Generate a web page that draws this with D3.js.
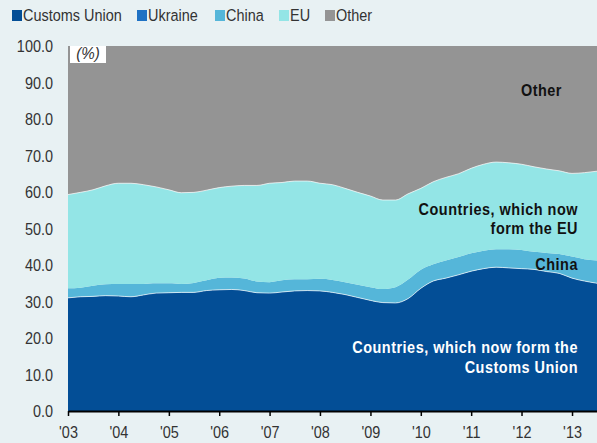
<!DOCTYPE html>
<html><head><meta charset="utf-8">
<script src="https://cdn.jsdelivr.net/npm/d3@7"></script>
<style>
html,body{margin:0;padding:0;background:#e8f1f3;}
svg{display:block;}
text{font-family:'Liberation Sans','Arial',sans-serif;}
</style></head>
<body>
<svg id="chart" width="597" height="443"></svg>
<script>
// Quarterly observations, Jan 2003 .. Jul 2013 (share of total, %)
const periods = d3.range(43).map(i => new Date(2003 + Math.floor(i / 4), (i % 4) * 3, 1));
const seriesNames = ["Customs Union", "Ukraine", "China", "EU", "Other"];
const customsUnion = [31.0,31.3,31.4,31.6,31.5,31.3,31.8,32.3,32.4,32.5,32.5,33.0,33.2,33.3,33.0,32.4,32.3,32.6,32.9,33.0,32.9,32.5,31.9,31.1,30.3,29.7,29.6,30.8,33.6,35.6,36.4,37.3,38.3,39.0,39.4,39.2,39.0,38.8,38.2,37.7,36.4,35.6,35.0];
const ukraine =      [0,0,0,0,0,0,0,0,0,0,0,0,0,0,0,0,0,0,0,0,0,0,0,0,0,0,0,0,0,0,0,0,0,0,0,0,0,0,0,0,0,0,0];
const china =        [2.6,2.5,2.9,3.1,3.3,3.5,3.0,2.7,2.6,2.3,2.6,2.8,3.3,3.3,3.3,3.1,3.0,3.2,3.2,3.1,3.3,3.4,3.4,3.5,3.6,3.7,4.3,5.2,5.1,4.6,4.8,4.9,4.9,4.9,4.9,5.1,5.1,4.8,5.1,5.3,5.9,6.0,6.2];
const eu =           [25.7,26.1,26.3,27.0,27.6,27.6,27.2,26.4,25.6,25.0,24.8,24.7,24.7,25.0,25.5,26.3,27.1,26.8,26.9,26.9,26.2,26.1,25.7,25.3,25.0,24.4,23.9,23.5,22.3,22.6,22.8,22.8,23.3,23.7,23.9,23.7,23.5,23.3,23.0,22.8,22.8,23.7,24.5];
const other =        [40.7,40.1,39.4,38.3,37.6,37.6,38.0,38.6,39.4,40.2,40.1,39.5,38.8,38.4,38.2,38.2,37.6,37.4,37.0,37.0,37.6,38.0,39.0,40.1,41.1,42.2,42.2,40.5,39.0,37.2,36.0,35.0,33.5,32.4,31.8,32.0,32.4,33.1,33.7,34.2,34.9,34.7,34.3];
const yTicks = [0,10,20,30,40,50,60,70,80,90,100];
const xTickYears = [2003,2004,2005,2006,2007,2008,2009,2010,2011,2012,2013];
const xTickLabels = ["'03","'04","'05","'06","'07","'08","'09","'10","'11","'12","'13"];
const colors = ["#034e96","#1f72c4","#55b6d9","#93e5e6","#949494"];

const svg = d3.select("#chart");
const mLeft = 68, mRight = 597, mTop = 46, mBottom = 411;
const SX = 0.85; // horizontal condensing of the text face

const x = d3.scaleTime().domain([periods[0], periods[periods.length-1]]).range([mLeft, mRight]);
const y = d3.scaleLinear().domain([0,100]).range([mBottom, mTop]);

const rows = periods.map((d,i) => ({date:d, "Customs Union":customsUnion[i], "Ukraine":ukraine[i], "China":china[i], "EU":eu[i], "Other":other[i]}));
const stack = d3.stack().keys(seriesNames);
const layers = stack(rows);

const area = d3.area().x(d => x(d.data.date)).y0(d => y(d[0])).y1(d => y(d[1])).curve(d3.curveMonotoneX);
const line = d3.line().x(d => x(d.data.date)).y(d => y(d[1])).curve(d3.curveMonotoneX);

svg.append("g").selectAll("path").data(layers).join("path")
  .attr("d", area).attr("fill", (d,i) => colors[i]);
// thin separators
svg.append("g").selectAll("path").data([layers[0], layers[3]]).join("path")
  .attr("d", line).attr("fill","none").attr("stroke","#ffffff").attr("stroke-opacity",0.75).attr("stroke-width",0.9);

// y axis labels
svg.append("g").selectAll("text").data(yTicks).join("text")
  .attr("transform", d => `translate(53,${y(d)}) scale(${SX},1)`)
  .attr("dy","0.36em").attr("text-anchor","end")
  .attr("font-size", 17).attr("fill", "#333").text(d => d.toFixed(1));

// x axis
const xAxis = d3.axisBottom(x).tickValues(xTickYears.map(yr => new Date(yr,0,1)))
  .tickFormat((d,i) => xTickLabels[i]).tickSize(5).tickSizeOuter(0);
const gx = svg.append("g").attr("transform", `translate(0,${mBottom})`).call(xAxis);
gx.select(".domain").attr("stroke","#000").attr("stroke-width",2);
gx.selectAll(".tick line").attr("stroke","#000").attr("stroke-width",1.5);
gx.selectAll(".tick text").attr("font-size",17).attr("fill","#333").attr("y",0).attr("dy","0")
  .attr("transform", `translate(0,27) scale(${SX},1)`)
  .attr("font-family","'Liberation Sans','Arial',sans-serif");

// (%) box
svg.append("rect").attr("x", mLeft+2).attr("y", mTop).attr("width", 36).attr("height", 17).attr("fill","#ffffff");
svg.append("text").attr("transform", `translate(${mLeft+20},${mTop+13}) scale(0.95,1)`).attr("text-anchor","middle")
  .attr("font-size",16).attr("font-style","italic").attr("fill","#333").text("(%)");

// legend
const legendX = [12, 137, 215, 279, 325];
const lg = svg.append("g").selectAll("g").data(seriesNames).join("g")
  .attr("transform", (d,i) => `translate(${legendX[i]},10)`);
lg.append("rect").attr("width",10).attr("height",11).attr("fill",(d,i)=>colors[i]);
lg.append("text").attr("transform", `translate(11,11) scale(${SX},1)`).attr("font-size",17).attr("fill","#333").text(d => d);

// annotations
const ann = [
  {t:"Other", x:562, y:96, c:"#111"},
  {t:"Countries, which now", x:578, y:215, c:"#111"},
  {t:"form the EU", x:578, y:234, c:"#111"},
  {t:"China", x:578, y:270, c:"#111"},
  {t:"Countries, which now form the", x:578, y:353, c:"#fff"},
  {t:"Customs Union", x:578, y:373, c:"#fff"}
];
svg.append("g").selectAll("text").data(ann).join("text")
  .attr("transform", d => `translate(${d.x},${d.y}) scale(${SX},1)`)
  .attr("text-anchor","end").attr("font-weight","bold")
  .attr("font-size",17).attr("letter-spacing","0.6px").attr("fill", d=>d.c).text(d=>d.t);
</script>
</body></html>
